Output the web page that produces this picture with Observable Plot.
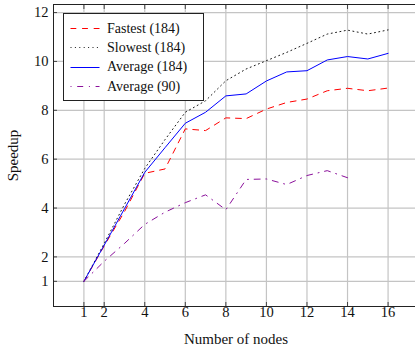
<!DOCTYPE html>
<html>
<head>
<meta charset="utf-8">
<script src="https://cdn.jsdelivr.net/npm/d3@7"></script>
<script src="https://cdn.jsdelivr.net/npm/@observablehq/plot@0.6"></script>
<style>
  html, body { margin: 0; padding: 0; background: white; overflow: hidden; }
  #wrap { position: relative; width: 415px; height: 349px; overflow: hidden; }
  #legend { position: absolute; left: 63px; top: 13px; width: 139px; height: 86px;
    border: 1px solid #222; background: white; font-family: 'Liberation Serif', 'Times New Roman', serif; font-size: 14px; color: #111; }
  #legend .row { position: absolute; left: 0; height: 19px; display: flex; align-items: center; }
  #legend .row span { margin-left: 7px; white-space: nowrap; }
</style>
</head>
<body>
<div id="wrap"></div>
<script>
const nodes = [1, 2, 3, 4, 5, 6, 7, 8, 9, 10, 11, 12, 13, 14, 15, 16];
const fastest = [1, 2.45, 3.85, 5.42, 5.60, 7.24, 7.17, 7.69, 7.66, 8.05, 8.32, 8.46, 8.80, 8.90, 8.80, 8.91];
const slowest = [1, 2.55, 4.15, 5.62, 6.80, 7.92, 8.39, 9.21, 9.69, 10.03, 10.37, 10.74, 11.12, 11.28, 11.12, 11.29];
const average184 = [1, 2.48, 3.97, 5.46, 6.47, 7.47, 7.92, 8.59, 8.67, 9.20, 9.57, 9.62, 10.06, 10.20, 10.10, 10.33];
const nodes90 = [1, 2, 3, 4, 5, 6, 7, 8, 9, 10, 11, 12, 13, 14];
const average90 = [1, 1.82, 2.55, 3.33, 3.83, 4.22, 4.54, 3.93, 5.17, 5.19, 4.96, 5.33, 5.53, 5.24];
const xTicks = [1, 2, 4, 6, 8, 10, 12, 14, 16];
const yTicks = [1, 2, 4, 6, 8, 10, 12];
const seriesNames = ["Fastest (184)", "Slowest (184)", "Average (184)", "Average (90)"];

const styles = [
  {stroke: "#ff0000", strokeDasharray: "5.8,5.8"},
  {stroke: "#000000", strokeDasharray: "1,3.4", strokeWidth: 0.9},
  {stroke: "#0000ff"},
  {stroke: "#8b109b", strokeDasharray: "6,5.7,1,5.7"}
];

const chart = Plot.plot({
  width: 415,
  height: 349,
  marginLeft: 53,
  marginRight: -3,
  marginTop: 4,
  marginBottom: 43,
  style: {fontFamily: "'Liberation Serif', 'Times New Roman', serif", fontSize: "14.5px", background: "white", color: "#111"},
  x: {domain: [-0.5, 17.5]},
  y: {domain: [-0.03, 12.33]},
  marks: [
    Plot.gridX(xTicks, {stroke: "#c4c4c4", strokeOpacity: 1, strokeWidth: 1.2}),
    Plot.gridY(yTicks, {stroke: "#c4c4c4", strokeOpacity: 1, strokeWidth: 1.2}),
    Plot.axisX(xTicks, {anchor: "bottom", tickSize: -4, tickPadding: 4, stroke: "#444", label: null}),
    Plot.axisX({anchor: "bottom", ticks: [], label: "Number of nodes", labelAnchor: "center", labelArrow: "none", labelOffset: 37, fontSize: 15}),
    Plot.axisX(xTicks, {anchor: "top", tickSize: -4, stroke: "#444", tickFormat: () => "", label: null}),
    Plot.axisY(yTicks, {anchor: "left", tickSize: -4, tickPadding: 9, stroke: "#444", label: null}),
    Plot.axisY({anchor: "left", ticks: [], label: "Speedup", labelAnchor: "center", labelArrow: "none", labelOffset: 46, fontSize: 15}),
    Plot.axisY(yTicks, {anchor: "right", tickSize: -4, stroke: "#444", tickFormat: () => "", label: null}),
    Plot.line(nodes, {x: nodes, y: fastest, strokeWidth: 1, ...styles[0]}),
    Plot.line(nodes, {x: nodes, y: slowest, strokeWidth: 1, ...styles[1]}),
    Plot.line(nodes, {x: nodes, y: average184, strokeWidth: 1, ...styles[2]}),
    Plot.line(nodes90, {x: nodes90, y: average90, strokeWidth: 1, ...styles[3]}),
    Plot.frame({stroke: "#222", strokeWidth: 1})
  ]
});

const wrap = document.getElementById("wrap");
wrap.appendChild(chart);

// Legend
const legend = document.createElement("div");
legend.id = "legend";
const legendDash = ["5.8,5.8", "1,3.4", null, "1,5.7,6,5.7"];
seriesNames.forEach((name, i) => {
  const row = document.createElement("div");
  row.className = "row";
  row.style.top = (5 + i * 19.4) + "px";
  const s = styles[i];
  const svgNS = "http://www.w3.org/2000/svg";
  const svg = document.createElementNS(svgNS, "svg");
  svg.setAttribute("width", "36");
  svg.setAttribute("height", "19");
  const ln = document.createElementNS(svgNS, "line");
  ln.setAttribute("x1", "6.5"); ln.setAttribute("x2", "35.5");
  ln.setAttribute("y1", "9.5"); ln.setAttribute("y2", "9.5");
  ln.setAttribute("stroke", s.stroke);
  ln.setAttribute("stroke-width", s.strokeWidth || 1);
  if (legendDash[i]) ln.setAttribute("stroke-dasharray", legendDash[i]);
  svg.appendChild(ln);
  row.appendChild(svg);
  const t = document.createElement("span");
  t.textContent = name;
  row.appendChild(t);
  legend.appendChild(row);
});
wrap.appendChild(legend);
</script>
</body>
</html>
